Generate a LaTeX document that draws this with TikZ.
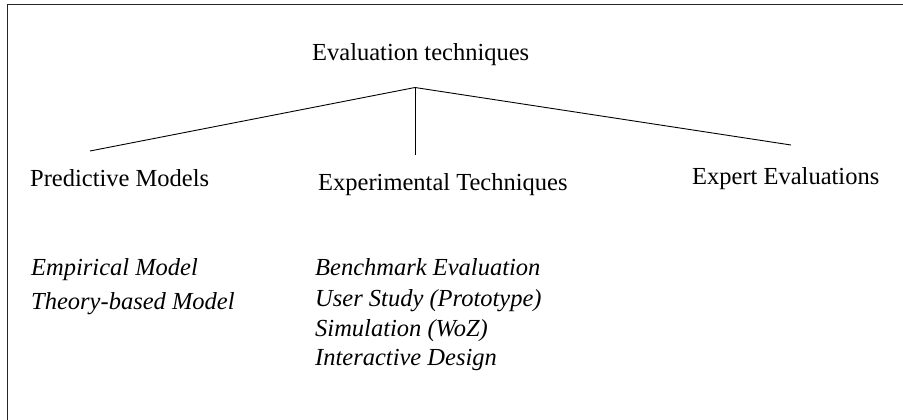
\documentclass[tikz,border=0pt]{standalone}
\usepackage{fontspec}
\setmainfont{Liberation Serif}
\begin{document}
\begin{tikzpicture}[x=1pt,y=-1pt,
  label/.style={anchor=base west,inner sep=0pt,font=\fontsize{24.5}{28}\selectfont},
  item/.style={label,font=\fontsize{24.5}{28}\selectfont\itshape},
  branch/.style={line width=0.9pt,black}]
\useasboundingbox (0,0) rectangle (903,420);
% frame (left and top edges)
\draw[line width=1.3pt,black!85] (7.3,420) -- (7.3,4.7) -- (903,4.7);
% headings
\node[label] (root) at (312,60.5) {Evaluation techniques};
\node[label] (pred) at (30,186.5) {Predictive Models};
\node[label] (expt) at (318,190) {Experimental Techniques};
\node[label] (expe) at (692,184.5) {Expert Evaluations};
% tree branches
\coordinate (apex) at (415,87.5);
\coordinate (predEnd) at (90,151);
\coordinate (exptEnd) at (415,154.5);
\coordinate (expeEnd) at (791,145);
\draw[branch] (apex) -- (predEnd);
\draw[branch] (apex) -- (exptEnd);
\draw[branch] (apex) -- (expeEnd);
% listed methods
\node[item] (emp) at (31,275) {Empirical Model};
\node[item] (theo) at (31,309) {Theory-based Model};
\node[item] (bench) at (315,275) {Benchmark Evaluation};
\node[item] (user) at (315,306) {User Study (Prototype)};
\node[item] (sim) at (315,336) {Simulation (WoZ)};
\node[item] (inter) at (315,365) {Interactive Design};
\end{tikzpicture}
\end{document}
